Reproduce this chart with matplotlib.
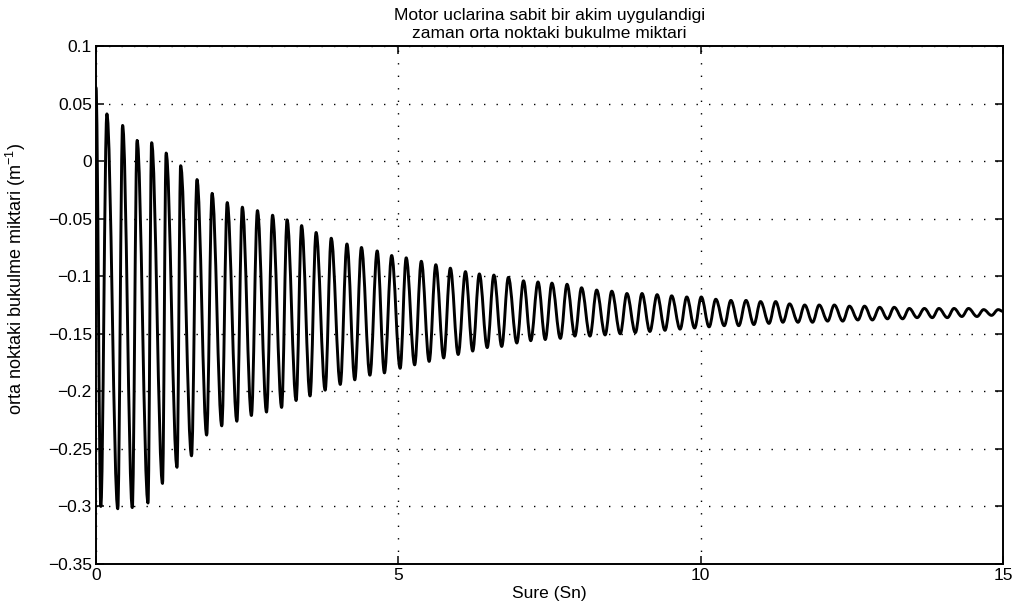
#!/usr/bin/env python3
"""Damped mid-point bending response, MATLAB-style plot."""

import matplotlib

matplotlib.use("Agg")
import matplotlib.pyplot as plt
from matplotlib.path import Path
from matplotlib.patches import PathPatch

# --- data (extrema of the oscillation) ---
t_start, y_start = 0.0, 0.064
t_first_min, y_first_min = 0.08, -0.300

t_max = [0.18, 0.44, 0.68, 0.92, 1.16, 1.40, 1.67, 1.92, 2.17, 2.42,
         2.67, 2.92, 3.16, 3.40, 3.64, 3.89, 4.15, 4.39, 4.65, 4.89,
         5.13, 5.38, 5.62, 5.86, 6.11, 6.34, 6.58, 6.82, 7.07, 7.31,
         7.54, 7.79, 8.03, 8.28, 8.53, 8.78, 9.03, 9.28, 9.52, 9.77,
         10.01, 10.25, 10.50, 10.75, 10.99, 11.24, 11.47, 11.72, 11.96, 12.21,
         12.46, 12.71, 12.96, 13.20, 13.45, 13.70, 13.94, 14.19, 14.43, 14.68,
         14.92]
y_max = [0.041, 0.031, 0.018, 0.016, 0.007, -0.004, -0.016, -0.028, -0.036, -0.040,
         -0.043, -0.047, -0.051, -0.056, -0.062, -0.067, -0.072, -0.075, -0.078, -0.082,
         -0.084, -0.087, -0.090, -0.093, -0.096, -0.098, -0.099, -0.101, -0.104, -0.105,
         -0.106, -0.107, -0.110, -0.112, -0.113, -0.115, -0.115, -0.116, -0.117, -0.118,
         -0.118, -0.120, -0.121, -0.121, -0.122, -0.122, -0.124, -0.125, -0.125, -0.125,
         -0.126, -0.126, -0.127, -0.127, -0.128, -0.128, -0.128, -0.128, -0.128, -0.129,
         -0.129]

t_min = [0.36, 0.60, 0.86, 1.10, 1.34, 1.58, 1.83, 2.08, 2.33, 2.57,
         2.82, 3.07, 3.31, 3.54, 3.79, 4.04, 4.28, 4.53, 4.77, 5.03,
         5.27, 5.51, 5.75, 5.99, 6.23, 6.47, 6.71, 6.96, 7.19, 7.43,
         7.68, 7.92, 8.17, 8.42, 8.67, 8.92, 9.16, 9.41, 9.66, 9.90,
         10.14, 10.39, 10.63, 10.88, 11.13, 11.36, 11.61, 11.85, 12.10, 12.35,
         12.60, 12.84, 13.09, 13.34, 13.58, 13.83, 14.08, 14.32, 14.57, 14.81]
y_min = [-0.302, -0.301, -0.297, -0.280, -0.266, -0.256, -0.238, -0.230, -0.226, -0.221,
         -0.218, -0.214, -0.208, -0.204, -0.199, -0.194, -0.190, -0.186, -0.184, -0.180,
         -0.177, -0.174, -0.171, -0.168, -0.165, -0.162, -0.161, -0.158, -0.156, -0.155,
         -0.154, -0.152, -0.152, -0.151, -0.150, -0.149, -0.148, -0.147, -0.146, -0.145,
         -0.144, -0.143, -0.143, -0.142, -0.141, -0.140, -0.140, -0.140, -0.139, -0.139,
         -0.138, -0.138, -0.137, -0.137, -0.136, -0.136, -0.136, -0.135, -0.135, -0.134]

t_end, y_end = 15.0, -0.1305

x_ticks = [0, 5, 10, 15]
y_ticks = [0.1, 0.05, 0, -0.05, -0.1, -0.15, -0.2, -0.25, -0.3, -0.35]
y_tick_labels = ["0.1", "0.05", "0", "\u22120.05", "\u22120.1", "\u22120.15",
                 "\u22120.2", "\u22120.25", "\u22120.3", "\u22120.35"]

title = "Motor uclarina sabit bir akim uygulandigi\nzaman orta noktaki bukulme miktari"
x_label = "Sure (Sn)"
y_label = "orta noktaki bukulme miktari (m$^{-1}$)"

plt.rcParams["font.family"] = ["Liberation Sans", "DejaVu Sans"]
plt.rcParams["mathtext.fontset"] = "custom"
plt.rcParams["mathtext.rm"] = "Liberation Sans"
plt.rcParams["mathtext.it"] = "Liberation Sans:italic"

# extrema in time order
pts = [(t_start, y_start), (t_first_min, y_first_min)]
for k in range(len(t_min)):
    pts.append((t_max[k], y_max[k]))
    pts.append((t_min[k], y_min[k]))
pts.append((t_max[-1], y_max[-1]))
pts.append((t_end, y_end))

# smooth half-waves between extrema (cubic Bezier, flat tangent at peaks)
verts = [pts[0]]
codes = [Path.MOVETO]
a = 0.36
for (t0, y0), (t1, y1) in zip(pts[:-1], pts[1:]):
    dt = t1 - t0
    verts += [(t0 + a * dt, y0), (t1 - a * dt, y1), (t1, y1)]
    codes += [Path.CURVE4] * 3

fig = plt.figure(figsize=(10.29, 6.10), dpi=100)
ax = fig.add_axes([96 / 1029, 1 - 564 / 610, (1003 - 96) / 1029, (564 - 46) / 610])

ax.add_patch(PathPatch(Path(verts, codes), fill=False, edgecolor="black",
                       linewidth=2.1, joinstyle="round", capstyle="round", zorder=3))

ax.set_xlim(0, 15)
ax.set_ylim(-0.35, 0.1)
ax.set_xticks(x_ticks)
ax.set_xticklabels([str(v) for v in x_ticks])
ax.set_yticks(y_ticks)
ax.set_yticklabels(y_tick_labels)
ax.tick_params(direction="in", length=6, width=1.1, labelsize=12.5,
               top=True, right=True, pad=3)
ax.grid(True, color="black", linestyle=(0, (1, 8)), linewidth=1.0)
for s in ax.spines.values():
    s.set_linewidth(1.4)

ax.set_title(title, fontsize=12.5, pad=6, linespacing=1.25)
ax.set_xlabel(x_label, fontsize=12.5, labelpad=2)
ax.set_ylabel(y_label, fontsize=13,
              family=["Liberation Sans Narrow", "Liberation Sans", "DejaVu Sans"])
ax.yaxis.set_label_coords(-0.075, 0.55)

fig.savefig("out.png", dpi=100)
plt.close(fig)
